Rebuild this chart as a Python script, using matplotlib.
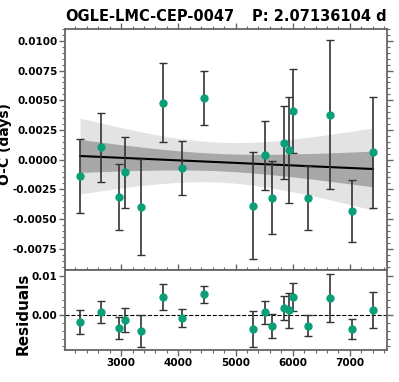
import matplotlib
matplotlib.use('Agg')
import matplotlib.pyplot as plt
import numpy as np
from matplotlib.ticker import MultipleLocator, FormatStrFormatter

# ---- data ----
hjd = [2281, 2644, 2970, 3075, 3351, 3731, 4070, 4456, 5298, 5514,
       5632, 5854, 5935, 6011, 6275, 6643, 7035, 7404]
oc = [-0.00140, 0.00104, -0.00315, -0.00107, -0.00400, 0.00480, -0.00070,
      0.00520, -0.00387, 0.00036, -0.00320, 0.00143, 0.00081, 0.00412,
      -0.00320, 0.00379, -0.00430, 0.00061]
oc_err = [0.00310, 0.00290, 0.00275, 0.00300, 0.00405, 0.00333, 0.00230,
          0.00225, 0.00450, 0.00290, 0.00305, 0.00305, 0.00450, 0.00355,
          0.00270, 0.00625, 0.00260, 0.00465]
star = "OGLE-LMC-CEP-0047"
period_label = "P: 2.07136104 d"
band_levels = [2.3, 1.0]

plt.rcParams['font.family'] = ['DejaVu Sans']
plt.rcParams['font.weight'] = 'bold'

x = np.array(hjd, float)
y = np.array(oc, float)
e = np.array(oc_err, float)

# weighted linear fit
w = 1.0 / e**2
A = np.vstack([np.ones_like(x), x]).T
cov = np.linalg.inv(A.T @ (A * w[:, None]))
beta = cov @ (A.T @ (w * y))
xx = np.linspace(x.min(), x.max(), 200)
AA = np.vstack([np.ones_like(xx), xx]).T
yy = AA @ beta
sig = np.sqrt(np.einsum('ij,jk,ik->i', AA, cov, AA))
resid = y - A @ beta

green = '#0a9f78'
ecol = '#333333'
spcol = '#666666'

fig = plt.figure(figsize=(3.99, 3.82), dpi=100)
ax = fig.add_axes([0.163, 0.293, 0.807, 0.631])
axr = fig.add_axes([0.163, 0.084, 0.807, 0.209], sharex=ax)

cols = ['#e3e3e3', '#a8a8a8']
for lev, c in zip(band_levels, cols):
    ax.fill_between(xx, yy - lev * sig, yy + lev * sig, color=c, lw=0, zorder=1)
ax.plot(xx, yy, color='black', lw=1.5, zorder=2)
ax.errorbar(x, y, yerr=e, fmt='o', color=green, ms=5, ecolor=ecol,
            elinewidth=1.2, capsize=3, capthick=1.0, zorder=3)

axr.axhline(0, color='black', lw=0.8, ls='--', zorder=1)
axr.errorbar(x, resid, yerr=e, fmt='o', color=green, ms=5, ecolor=ecol,
             elinewidth=1.2, capsize=3, capthick=1.0, zorder=3)

ax.set_xlim(2018, 7649)
ax.set_ylim(-0.0093, 0.0110)
axr.set_ylim(-0.0089, 0.0116)

ax.yaxis.set_major_locator(MultipleLocator(0.0025))
ax.yaxis.set_minor_locator(MultipleLocator(0.0005))
ax.yaxis.set_major_formatter(FormatStrFormatter('%.4f'))
ax.xaxis.set_major_locator(MultipleLocator(1000))
ax.xaxis.set_minor_locator(MultipleLocator(200))
axr.yaxis.set_major_locator(MultipleLocator(0.01))
axr.yaxis.set_minor_locator(MultipleLocator(0.002))
axr.yaxis.set_major_formatter(FormatStrFormatter('%.2f'))

for a in (ax, axr):
    for s in a.spines.values():
        s.set_color(spcol)
        s.set_linewidth(1.3)
    a.tick_params(which='both', direction='out', color=spcol, labelsize=7.5, pad=1.5)
    a.tick_params(which='major', length=4, width=1.0)
    a.tick_params(which='minor', length=2.2, width=0.8)

ax.tick_params(which='both', top=True, bottom=False, left=True, right=True,
               labelbottom=False)
axr.tick_params(which='both', top=True, bottom=True, left=True, right=True,
                labeltop=False)

for lab in ax.get_yticklabels() + axr.get_yticklabels() + axr.get_xticklabels():
    lab.set_fontweight('bold')

ax.set_ylabel('O-C (days)', fontsize=10, fontweight='bold')
axr.set_ylabel('Residuals', fontsize=11, fontweight='bold')
ax.yaxis.set_label_coords(-0.166, 0.523)
axr.yaxis.set_label_coords(-0.108, 0.45)

ax.set_title(star, loc='left', fontsize=10.5, fontweight='bold', pad=6)
ax.set_title(period_label, loc='right', fontsize=10.5, fontweight='bold', pad=6)

fig.savefig('out.png', dpi=100)
